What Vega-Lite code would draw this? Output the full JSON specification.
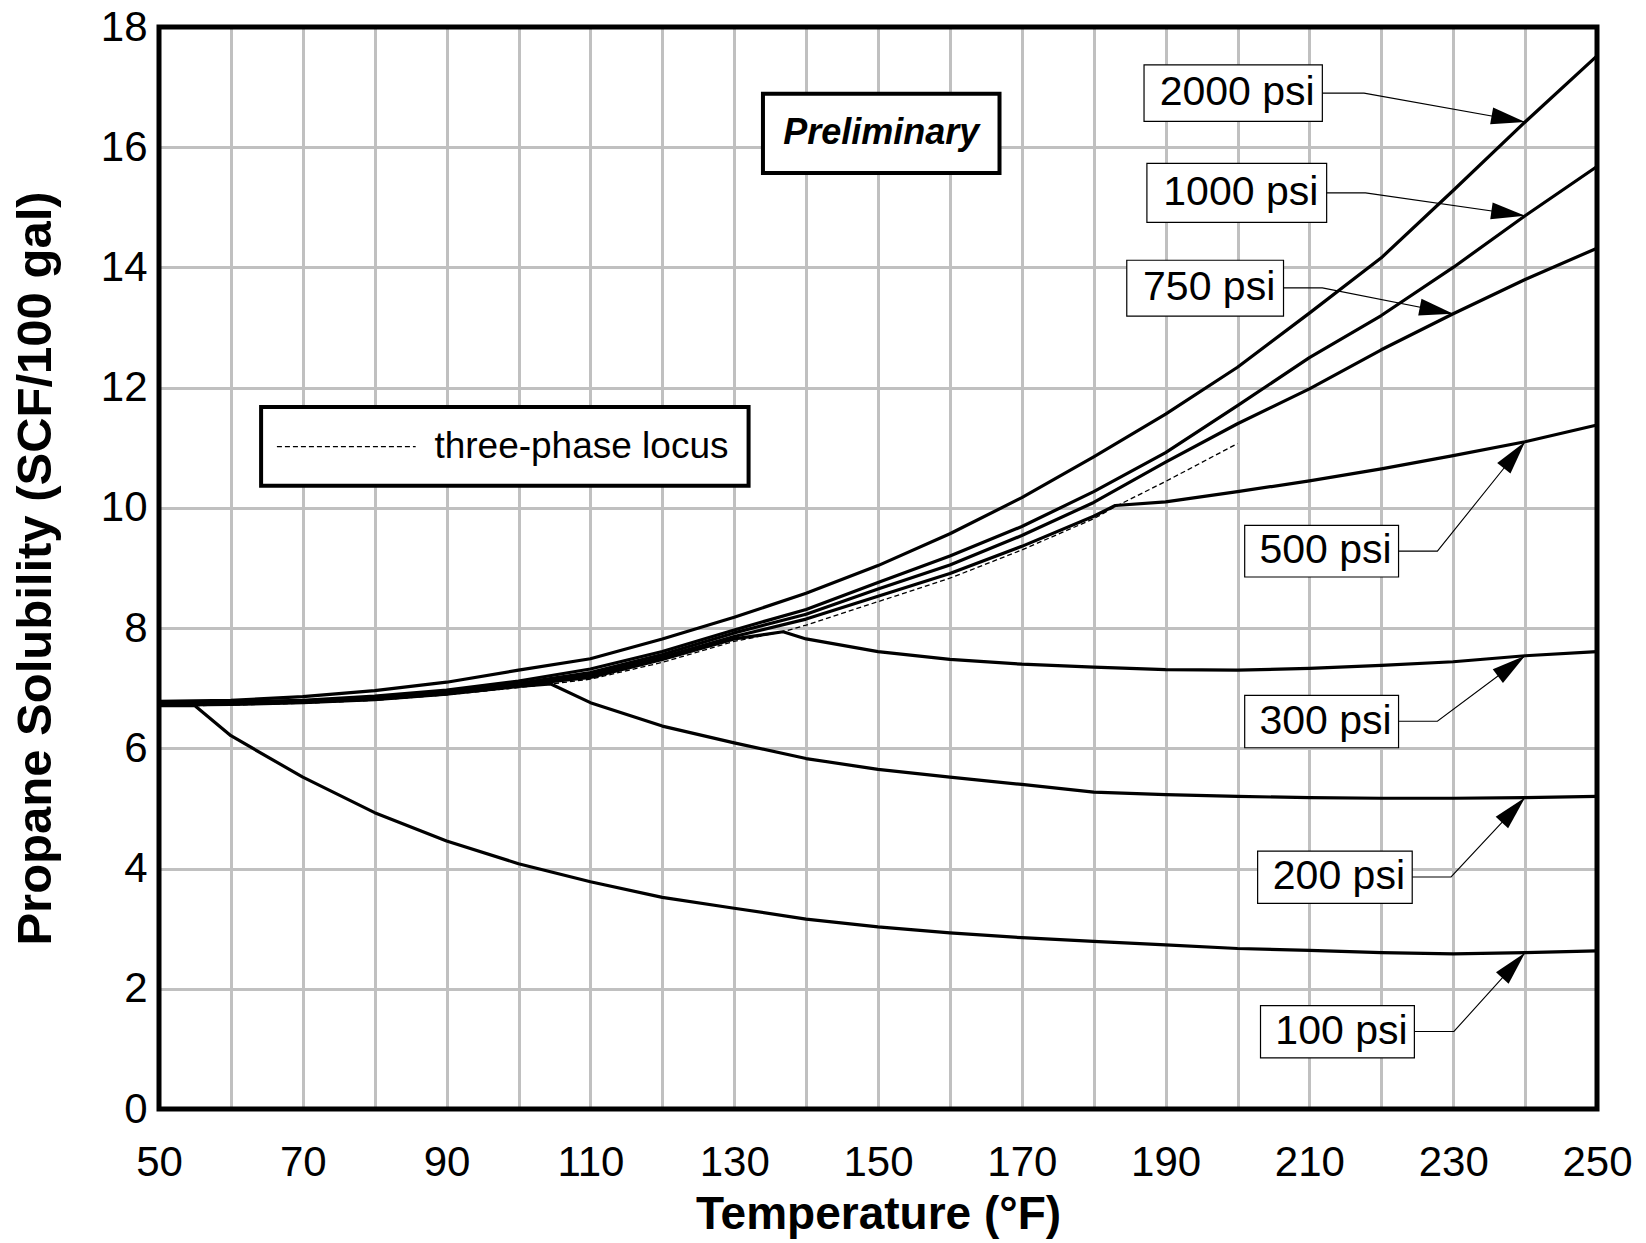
{
  "$schema": "https://vega.github.io/schema/vega-lite/v6.json",
  "width": 1438,
  "height": 1082,
  "autosize": {"type": "none"},
  "padding": {"left": 159, "top": 27, "right": 49, "bottom": 134},
  "background": "white",
  "config": {
    "font": "Liberation Sans",
    "view": {"stroke": null}
  },
  "datasets": {
    "curves": [
      {"p": "2000", "t": 50, "s": 6.78}, {"p": "2000", "t": 60, "s": 6.8}, {"p": "2000", "t": 70, "s": 6.86}, {"p": "2000", "t": 80, "s": 6.96}, {"p": "2000", "t": 90, "s": 7.1}, {"p": "2000", "t": 100, "s": 7.3}, {"p": "2000", "t": 110, "s": 7.49}, {"p": "2000", "t": 120, "s": 7.82}, {"p": "2000", "t": 130, "s": 8.18}, {"p": "2000", "t": 140, "s": 8.58}, {"p": "2000", "t": 150, "s": 9.04}, {"p": "2000", "t": 160, "s": 9.57}, {"p": "2000", "t": 170, "s": 10.17}, {"p": "2000", "t": 180, "s": 10.85}, {"p": "2000", "t": 190, "s": 11.56}, {"p": "2000", "t": 200, "s": 12.34}, {"p": "2000", "t": 210, "s": 13.24}, {"p": "2000", "t": 220, "s": 14.16}, {"p": "2000", "t": 230, "s": 15.28}, {"p": "2000", "t": 240, "s": 16.42}, {"p": "2000", "t": 250, "s": 17.52},
      {"p": "1000", "t": 50, "s": 6.76}, {"p": "1000", "t": 60, "s": 6.77}, {"p": "1000", "t": 70, "s": 6.8}, {"p": "1000", "t": 80, "s": 6.87}, {"p": "1000", "t": 90, "s": 6.97}, {"p": "1000", "t": 100, "s": 7.12}, {"p": "1000", "t": 110, "s": 7.32}, {"p": "1000", "t": 120, "s": 7.61}, {"p": "1000", "t": 130, "s": 7.97}, {"p": "1000", "t": 140, "s": 8.31}, {"p": "1000", "t": 150, "s": 8.76}, {"p": "1000", "t": 160, "s": 9.2}, {"p": "1000", "t": 170, "s": 9.69}, {"p": "1000", "t": 180, "s": 10.27}, {"p": "1000", "t": 190, "s": 10.92}, {"p": "1000", "t": 200, "s": 11.7}, {"p": "1000", "t": 210, "s": 12.5}, {"p": "1000", "t": 220, "s": 13.2}, {"p": "1000", "t": 230, "s": 14.0}, {"p": "1000", "t": 240, "s": 14.86}, {"p": "1000", "t": 250, "s": 15.68},
      {"p": "750", "t": 50, "s": 6.75}, {"p": "750", "t": 60, "s": 6.76}, {"p": "750", "t": 70, "s": 6.79}, {"p": "750", "t": 80, "s": 6.85}, {"p": "750", "t": 90, "s": 6.94}, {"p": "750", "t": 100, "s": 7.08}, {"p": "750", "t": 110, "s": 7.26}, {"p": "750", "t": 120, "s": 7.56}, {"p": "750", "t": 130, "s": 7.92}, {"p": "750", "t": 140, "s": 8.23}, {"p": "750", "t": 150, "s": 8.65}, {"p": "750", "t": 160, "s": 9.05}, {"p": "750", "t": 170, "s": 9.54}, {"p": "750", "t": 180, "s": 10.09}, {"p": "750", "t": 190, "s": 10.76}, {"p": "750", "t": 200, "s": 11.4}, {"p": "750", "t": 210, "s": 11.98}, {"p": "750", "t": 220, "s": 12.63}, {"p": "750", "t": 230, "s": 13.23}, {"p": "750", "t": 240, "s": 13.8}, {"p": "750", "t": 250, "s": 14.32},
      {"p": "500", "t": 50, "s": 6.74}, {"p": "500", "t": 60, "s": 6.75}, {"p": "500", "t": 70, "s": 6.78}, {"p": "500", "t": 80, "s": 6.83}, {"p": "500", "t": 90, "s": 6.92}, {"p": "500", "t": 100, "s": 7.06}, {"p": "500", "t": 110, "s": 7.22}, {"p": "500", "t": 120, "s": 7.52}, {"p": "500", "t": 130, "s": 7.86}, {"p": "500", "t": 140, "s": 8.15}, {"p": "500", "t": 150, "s": 8.53}, {"p": "500", "t": 160, "s": 8.91}, {"p": "500", "t": 170, "s": 9.36}, {"p": "500", "t": 180, "s": 9.86}, {"p": "500", "t": 183, "s": 10.04}, {"p": "500", "t": 190, "s": 10.1}, {"p": "500", "t": 200, "s": 10.27}, {"p": "500", "t": 210, "s": 10.45}, {"p": "500", "t": 220, "s": 10.65}, {"p": "500", "t": 230, "s": 10.87}, {"p": "500", "t": 240, "s": 11.1}, {"p": "500", "t": 250, "s": 11.38},
      {"p": "300", "t": 50, "s": 6.73}, {"p": "300", "t": 60, "s": 6.74}, {"p": "300", "t": 70, "s": 6.77}, {"p": "300", "t": 80, "s": 6.82}, {"p": "300", "t": 90, "s": 6.91}, {"p": "300", "t": 100, "s": 7.05}, {"p": "300", "t": 110, "s": 7.18}, {"p": "300", "t": 120, "s": 7.48}, {"p": "300", "t": 130, "s": 7.82}, {"p": "300", "t": 136.8, "s": 7.94}, {"p": "300", "t": 140, "s": 7.82}, {"p": "300", "t": 150, "s": 7.61}, {"p": "300", "t": 160, "s": 7.48}, {"p": "300", "t": 170, "s": 7.4}, {"p": "300", "t": 180, "s": 7.35}, {"p": "300", "t": 190, "s": 7.31}, {"p": "300", "t": 200, "s": 7.3}, {"p": "300", "t": 210, "s": 7.33}, {"p": "300", "t": 220, "s": 7.38}, {"p": "300", "t": 230, "s": 7.44}, {"p": "300", "t": 240, "s": 7.54}, {"p": "300", "t": 250, "s": 7.61},
      {"p": "200", "t": 50, "s": 6.72}, {"p": "200", "t": 60, "s": 6.73}, {"p": "200", "t": 70, "s": 6.76}, {"p": "200", "t": 80, "s": 6.81}, {"p": "200", "t": 90, "s": 6.9}, {"p": "200", "t": 100, "s": 7.03}, {"p": "200", "t": 104.5, "s": 7.07}, {"p": "200", "t": 110, "s": 6.76}, {"p": "200", "t": 120, "s": 6.37}, {"p": "200", "t": 130, "s": 6.09}, {"p": "200", "t": 140, "s": 5.83}, {"p": "200", "t": 150, "s": 5.65}, {"p": "200", "t": 160, "s": 5.52}, {"p": "200", "t": 170, "s": 5.4}, {"p": "200", "t": 180, "s": 5.27}, {"p": "200", "t": 190, "s": 5.23}, {"p": "200", "t": 200, "s": 5.2}, {"p": "200", "t": 210, "s": 5.18}, {"p": "200", "t": 220, "s": 5.17}, {"p": "200", "t": 230, "s": 5.17}, {"p": "200", "t": 240, "s": 5.18}, {"p": "200", "t": 250, "s": 5.2},
      {"p": "100", "t": 50, "s": 6.71}, {"p": "100", "t": 55, "s": 6.71}, {"p": "100", "t": 60, "s": 6.21}, {"p": "100", "t": 70, "s": 5.52}, {"p": "100", "t": 80, "s": 4.93}, {"p": "100", "t": 90, "s": 4.46}, {"p": "100", "t": 100, "s": 4.08}, {"p": "100", "t": 110, "s": 3.78}, {"p": "100", "t": 120, "s": 3.52}, {"p": "100", "t": 130, "s": 3.34}, {"p": "100", "t": 140, "s": 3.16}, {"p": "100", "t": 150, "s": 3.03}, {"p": "100", "t": 160, "s": 2.93}, {"p": "100", "t": 170, "s": 2.85}, {"p": "100", "t": 180, "s": 2.79}, {"p": "100", "t": 190, "s": 2.73}, {"p": "100", "t": 200, "s": 2.67}, {"p": "100", "t": 210, "s": 2.64}, {"p": "100", "t": 220, "s": 2.6}, {"p": "100", "t": 230, "s": 2.58}, {"p": "100", "t": 240, "s": 2.6}, {"p": "100", "t": 250, "s": 2.63}
    ],
    "locus": [
      {"t": 55, "s": 6.71}, {"t": 60, "s": 6.72}, {"t": 70, "s": 6.75}, {"t": 80, "s": 6.8}, {"t": 90, "s": 6.89}, {"t": 100, "s": 7.01}, {"t": 104.5, "s": 7.07}, {"t": 110, "s": 7.15}, {"t": 120, "s": 7.43}, {"t": 130, "s": 7.78}, {"t": 136.8, "s": 7.94}, {"t": 140, "s": 8.05}, {"t": 150, "s": 8.44}, {"t": 160, "s": 8.83}, {"t": 170, "s": 9.3}, {"t": 180, "s": 9.82}, {"t": 183, "s": 10.02}, {"t": 190, "s": 10.44}, {"t": 200, "s": 11.07}
    ],
    "labelBoxes": [
      {"label": "2000 psi", "t": 187.0, "t2": 211.8, "s": 16.43, "s2": 17.37},
      {"label": "1000 psi", "t": 187.4, "t2": 212.4, "s": 14.75, "s2": 15.73},
      {"label": "750 psi", "t": 184.6, "t2": 206.4, "s": 13.19, "s2": 14.12},
      {"label": "500 psi", "t": 201.0, "t2": 222.4, "s": 8.85, "s2": 9.71},
      {"label": "300 psi", "t": 201.0, "t2": 222.4, "s": 6.01, "s2": 6.88},
      {"label": "200 psi", "t": 202.8, "t2": 224.3, "s": 3.42, "s2": 4.29},
      {"label": "100 psi", "t": 203.2, "t2": 224.6, "s": 0.85, "s2": 1.72}
    ],
    "panels": [
      {"name": "legend", "t": 64.2, "t2": 132.0, "s": 10.37, "s2": 11.68},
      {"name": "preliminary", "t": 134.0, "t2": 166.9, "s": 15.57, "s2": 16.89}
    ],
    "frame": [
      {"name": "plot frame", "t": 50, "t2": 250, "s": 0, "s2": 18}
    ],
    "connectors": [
      {"id": "2000", "seq": 0, "t": 211.8, "s": 16.9}, {"id": "2000", "seq": 1, "t": 217.6, "s": 16.9}, {"id": "2000", "seq": 2, "t": 240, "s": 16.42},
      {"id": "1000", "seq": 0, "t": 212.4, "s": 15.24}, {"id": "1000", "seq": 1, "t": 217.8, "s": 15.24}, {"id": "1000", "seq": 2, "t": 240, "s": 14.86},
      {"id": "750", "seq": 0, "t": 206.4, "s": 13.66}, {"id": "750", "seq": 1, "t": 211.8, "s": 13.66}, {"id": "750", "seq": 2, "t": 230, "s": 13.23},
      {"id": "500", "seq": 0, "t": 222.4, "s": 9.28}, {"id": "500", "seq": 1, "t": 227.8, "s": 9.28}, {"id": "500", "seq": 2, "t": 240, "s": 11.1},
      {"id": "300", "seq": 0, "t": 222.4, "s": 6.45}, {"id": "300", "seq": 1, "t": 227.8, "s": 6.45}, {"id": "300", "seq": 2, "t": 240, "s": 7.54},
      {"id": "200", "seq": 0, "t": 224.3, "s": 3.86}, {"id": "200", "seq": 1, "t": 229.7, "s": 3.86}, {"id": "200", "seq": 2, "t": 240, "s": 5.18},
      {"id": "100", "seq": 0, "t": 224.6, "s": 1.29}, {"id": "100", "seq": 1, "t": 230.1, "s": 1.29}, {"id": "100", "seq": 2, "t": 240, "s": 2.6}
    ],
    "arrows": [
      {"id": "2000", "t0": 217.6, "s0": 16.9, "t": 240, "s": 16.42},
      {"id": "1000", "t0": 217.8, "s0": 15.24, "t": 240, "s": 14.86},
      {"id": "750", "t0": 211.8, "s0": 13.66, "t": 230, "s": 13.23},
      {"id": "500", "t0": 227.8, "s0": 9.28, "t": 240, "s": 11.1},
      {"id": "300", "t0": 227.8, "s0": 6.45, "t": 240, "s": 7.54},
      {"id": "200", "t0": 229.7, "s0": 3.86, "t": 240, "s": 5.18},
      {"id": "100", "t0": 230.1, "s0": 1.29, "t": 240, "s": 2.6}
    ],
    "legendSample": [{"t": 66.4, "s": 11.02}, {"t": 85.7, "s": 11.02}],
    "legendText": [{"t": 88.3, "s": 11.02, "label": "three-phase locus"}],
    "prelimText": [{"t": 150.45, "s": 16.23, "label": "Preliminary"}]
  },
  "encoding": {
    "x": {
      "field": "t", "type": "quantitative",
      "scale": {"domain": [50, 250], "nice": false, "zero": false},
      "axis": {
        "title": "Temperature (°F)",
        "values": [50, 60, 70, 80, 90, 100, 110, 120, 130, 140, 150, 160, 170, 180, 190, 200, 210, 220, 230, 240, 250],
        "labelExpr": "(datum.value - 50) % 20 == 0 ? datum.label : ''",
        "format": "d",
        "grid": true, "gridColor": "#c0c0c0", "gridWidth": 3, "gridOpacity": 1,
        "domain": false, "ticks": false,
        "labelFontSize": 42, "labelColor": "#000", "labelPadding": 33, "labelFlush": false, "labelOverlap": false,
        "titleFontSize": 46, "titleFontWeight": "bold", "titleColor": "#000", "titlePadding": 9
      }
    },
    "y": {
      "field": "s", "type": "quantitative",
      "scale": {"domain": [0, 18], "nice": false, "zero": true},
      "axis": {
        "title": "Propane Solubility (SCF/100 gal)",
        "values": [0, 2, 4, 6, 8, 10, 12, 14, 16, 18],
        "format": "d",
        "grid": true, "gridColor": "#c0c0c0", "gridWidth": 3, "gridOpacity": 1,
        "domain": false, "ticks": false,
        "labelFontSize": 42, "labelColor": "#000", "labelPadding": 12, "labelFlush": false, "labelOverlap": false,
        "titleFontSize": 49, "titleFontWeight": "bold", "titleColor": "#000", "titlePadding": 40
      }
    }
  },
  "layer": [
    {
      "data": {"name": "panels"},
      "mark": {"type": "rect", "fill": "white", "stroke": "#000", "strokeWidth": 4},
      "encoding": {"x2": {"field": "t2"}, "y2": {"field": "s2"}}
    },
    {
      "data": {"name": "labelBoxes"},
      "mark": {"type": "rect", "fill": "white", "stroke": "#000", "strokeWidth": 1.2},
      "encoding": {"x2": {"field": "t2"}, "y2": {"field": "s2"}}
    },
    {
      "data": {"name": "curves"},
      "mark": {"type": "line", "color": "#000", "strokeWidth": 3.2, "strokeJoin": "round"},
      "encoding": {"detail": {"field": "p"}, "order": {"field": "t", "type": "quantitative"}}
    },
    {
      "data": {"name": "locus"},
      "mark": {"type": "line", "color": "#000", "strokeWidth": 1.3, "strokeDash": [5, 3]},
      "encoding": {"order": {"field": "t", "type": "quantitative"}}
    },
    {
      "data": {"name": "legendSample"},
      "mark": {"type": "line", "color": "#000", "strokeWidth": 1.3, "strokeDash": [5, 3]},
      "encoding": {}
    },
    {
      "data": {"name": "connectors"},
      "mark": {"type": "line", "color": "#000", "strokeWidth": 1.1},
      "encoding": {"detail": {"field": "id"}, "order": {"field": "seq", "type": "quantitative"}}
    },
    {
      "data": {"name": "arrows"},
      "transform": [
        {"calculate": "atan2(-(datum.s - datum.s0) * 60.11, (datum.t - datum.t0) * 7.19) * 180 / PI", "as": "ang"}
      ],
      "mark": {"type": "point", "shape": "M0,0L-2,-0.5L-2,0.5Z", "filled": true, "color": "#000", "opacity": 1, "size": 1156, "strokeWidth": 0},
      "encoding": {"angle": {"field": "ang", "type": "quantitative", "scale": null}}
    },
    {
      "data": {"name": "labelBoxes"},
      "transform": [
        {"calculate": "(datum.t + datum.t2) / 2", "as": "t"},
        {"calculate": "(datum.s + datum.s2) / 2", "as": "s"}
      ],
      "mark": {"type": "text", "fontSize": 41, "align": "center", "baseline": "middle", "dx": 4, "color": "#000"},
      "encoding": {"text": {"field": "label"}}
    },
    {
      "data": {"name": "legendText"},
      "mark": {"type": "text", "fontSize": 37, "align": "left", "baseline": "middle", "color": "#000"},
      "encoding": {"text": {"field": "label"}}
    },
    {
      "data": {"name": "prelimText"},
      "mark": {"type": "text", "fontSize": 36, "fontWeight": "bold", "fontStyle": "italic", "align": "center", "baseline": "middle", "color": "#000"},
      "encoding": {"text": {"field": "label"}}
    },
    {
      "data": {"name": "frame"},
      "mark": {"type": "rect", "fill": null, "fillOpacity": 0, "stroke": "#000", "strokeWidth": 5},
      "encoding": {"x2": {"field": "t2"}, "y2": {"field": "s2"}}
    }
  ]
}
